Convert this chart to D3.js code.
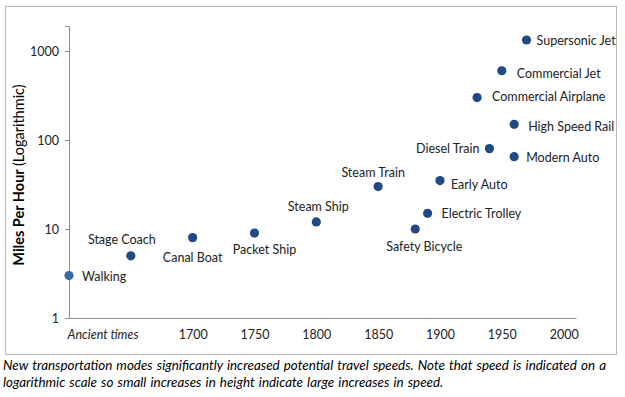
<!DOCTYPE html>
<html lang="en">
<head>
<meta charset="utf-8" />
<title>Transportation Speeds</title>
<style>
body { margin:0; background:#fff; }
text { font-family: Lato, "Open Sans", sans-serif; }
</style>
</head>
<body>
<script src="https://cdnjs.cloudflare.com/ajax/libs/d3/7.8.5/d3.min.js"></script>
<script type="text/javascript">
// data
var modes  = ["Walking","Stage Coach","Canal Boat","Packet Ship","Steam Ship","Steam Train",
              "Safety Bicycle","Electric Trolley","Early Auto","Commercial Airplane","Diesel Train",
              "Commercial Jet","High Speed Rail","Modern Auto","Supersonic Jet"];
var years  = [1600,1650,1700,1750,1800,1850,1880,1890,1900,1930,1940,1950,1960,1960,1970];
var speeds = [3,5,8,9,12,30,10,15,35,300,80,600,150,65,1330];
// label placement: dx, dy, anchor
var labelPos = [[13,5,"start"],[-9,-12,"middle"],[0,24,"middle"],[10,21,"middle"],[2,-11,"middle"],[-5,-10,"middle"],
                [9,22,"middle"],[14,5,"start"],[11,8,"start"],[15,3,"start"],[-10,4,"end"],
                [15,7,"start"],[14,7,"start"],[12,5,"start"],[10,5,"start"]];
var xTicks = [1700,1750,1800,1850,1900,1950,2000];
var yTicks = [1,10,100,1000];
var caption = ["New transportation modes significantly increased potential travel speeds. Note that speed is indicated on a",
               "logarithmic  scale so small increases in height indicate large increases in speed."];

var W = 625, H = 397;
var svg = d3.select("body").append("svg").attr("width",W).attr("height",H);

// outer frame
svg.append("rect").attr("x",5.5).attr("y",6.5).attr("width",611).attr("height",348)
   .attr("fill","none").attr("stroke","#b8b8b8");

var x = d3.scaleLinear().domain([1600,2010]).range([69,576]);
var y = d3.scaleLog().domain([1,Math.pow(10,292/89)]).range([318,26]);

var xAxis = svg.append("g").attr("transform","translate(0,318)")
   .call(d3.axisBottom(x).tickValues(xTicks).tickSize(0).tickPadding(12).tickFormat(d3.format("d")));
var yAxis = svg.append("g").attr("transform","translate(69,0)")
   .call(d3.axisLeft(y).tickValues(yTicks).tickSize(4).tickPadding(6).tickFormat(d3.format("d")));
[xAxis,yAxis].forEach(function(a){
  a.select(".domain").attr("stroke","#8c8c8c");
  a.selectAll(".tick line").attr("stroke","#8c8c8c");
  a.selectAll(".tick text").attr("fill","#222").attr("font-size",12.5);
});
xAxis.selectAll(".tick text").attr("dy","0.71em");

svg.append("text").attr("x",103).attr("y",339).attr("text-anchor","middle")
   .attr("font-size",12.5).attr("font-style","italic").attr("fill","#222").text("Ancient times");

// y axis title
var yt = svg.append("text").attr("transform","translate(24,175) rotate(-90)")
   .attr("text-anchor","middle").attr("font-size",14.5).attr("fill","#000");
yt.append("tspan").attr("font-weight","bold").text("Miles Per Hour ");
yt.append("tspan").text("(Logarithmic)");

var pts = modes.map(function(m,i){ return {name:m, year:years[i], mph:speeds[i], lp:labelPos[i]}; });

svg.selectAll("circle.pt").data(pts).enter().append("circle")
   .attr("class","pt")
   .attr("cx",function(d){ return x(d.year); })
   .attr("cy",function(d){ return y(d.mph); })
   .attr("r",4.6)
   .attr("fill",function(d,i){ return i==0 ? "#3a6aa6" : "#1f4a84"; });

svg.selectAll("text.lbl").data(pts).enter().append("text")
   .attr("class","lbl")
   .attr("x",function(d){ return x(d.year)+d.lp[0]; })
   .attr("y",function(d){ return y(d.mph)+d.lp[1]; })
   .attr("text-anchor",function(d){ return d.lp[2]; })
   .attr("font-size",12.5).attr("fill","#222")
   .text(function(d){ return d.name; });

svg.selectAll("text.cap").data(caption).enter().append("text")
   .attr("class","cap").attr("x",3).attr("y",function(d,i){ return 370+i*17; })
   .attr("font-size",13.4).attr("font-style","italic").attr("fill","#000")
   .attr("word-spacing",1)
   .text(function(d){ return d; });
</script>
</body>
</html>
